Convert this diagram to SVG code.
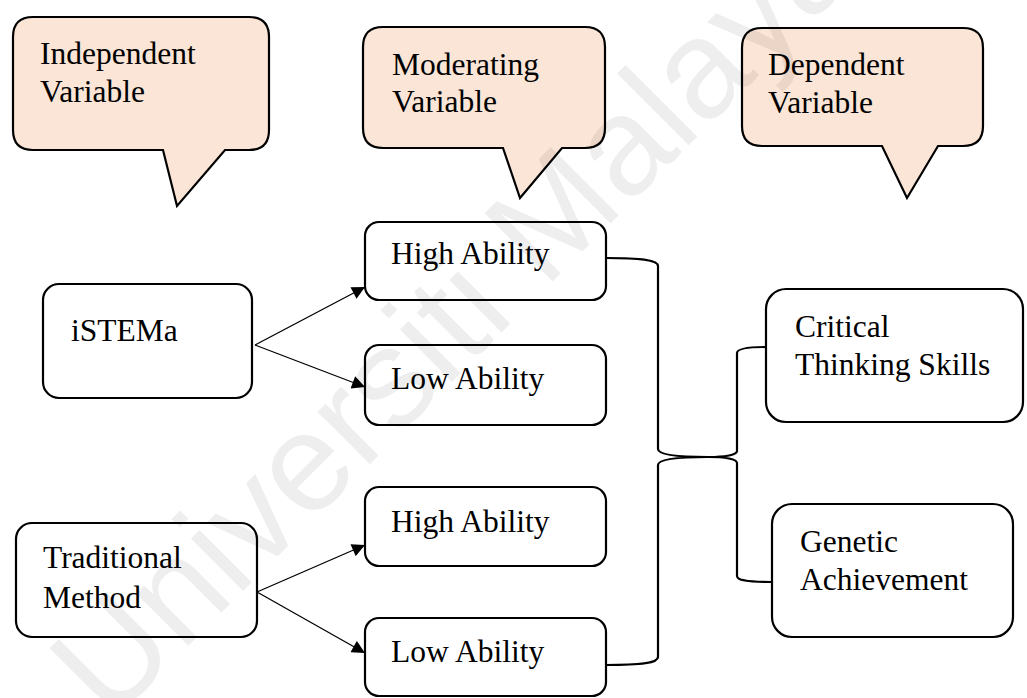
<svg xmlns="http://www.w3.org/2000/svg" width="1027" height="698" viewBox="0 0 1027 698">
  <style>
    .callout { fill: #FBE5D6; stroke: #000; stroke-width: 2.2; stroke-linejoin: miter; }
    .box { fill: #fff; stroke: #000; stroke-width: 2.2; }
    .label { font-family: "Liberation Serif", "Times New Roman", serif; font-size: 31.5px; fill: #000; }
    .arrow { fill: none; stroke: #000; stroke-width: 1.3; }
    .brace { fill: none; stroke: #000; stroke-width: 2.2; }
    .mark { font-family: "Liberation Sans", Arial, sans-serif; font-size: 140px; fill: #000; fill-opacity: 0.065; }
  </style>
  <defs>
    <marker id="head" viewBox="0 0 10 10" refX="10" refY="5" markerWidth="14" markerHeight="13" markerUnits="userSpaceOnUse" orient="auto">
      <path d="M0,0 L10,5 L0,10 z" fill="#000"/>
    </marker>
  </defs>

  <rect width="1027" height="698" fill="#fff"/>

  <!-- heading callouts -->
  <g id="independent-variable">
    <path class="callout" d="M33,17 H249 Q269,17 269,37 V130 Q269,150 249,150 H225 L177,206 L163,150 H33 Q13,150 13,130 V37 Q13,17 33,17 Z"/>
    <text class="label" x="40" y="64">Independent</text>
    <text class="label" x="40" y="102">Variable</text>
  </g>
  <g id="moderating-variable">
    <path class="callout" d="M383,27 H585 Q605,27 605,47 V128 Q605,148 585,148 H562 L520,198 L503,148 H383 Q363,148 363,128 V47 Q363,27 383,27 Z"/>
    <text class="label" x="392" y="75">Moderating</text>
    <text class="label" x="392" y="112">Variable</text>
  </g>
  <g id="dependent-variable">
    <path class="callout" d="M762,28 H963 Q983,28 983,48 V126 Q983,146 963,146 H938 L907,198 L882,146 H762 Q742,146 742,126 V48 Q742,28 762,28 Z"/>
    <text class="label" x="768" y="75">Dependent</text>
    <text class="label" x="768" y="113">Variable</text>
  </g>

  <!-- independent variable groups -->
  <g id="istema">
    <rect class="box" x="43" y="284" width="209" height="114" rx="16"/>
    <text class="label" x="71" y="341">iSTEMa</text>
  </g>
  <g id="traditional-method">
    <rect class="box" x="16" y="523" width="241" height="114" rx="16"/>
    <text class="label" x="43" y="568">Traditional</text>
    <text class="label" x="43" y="608">Method</text>
  </g>

  <!-- ability levels -->
  <g id="high-ability-1">
    <rect class="box" x="365" y="222" width="241" height="78" rx="14"/>
    <text class="label" x="391" y="264">High Ability</text>
  </g>
  <g id="low-ability-1">
    <rect class="box" x="365" y="345" width="241" height="80" rx="14"/>
    <text class="label" x="391" y="389">Low Ability</text>
  </g>
  <g id="high-ability-2">
    <rect class="box" x="365" y="487" width="241" height="79" rx="14"/>
    <text class="label" x="391" y="532">High Ability</text>
  </g>
  <g id="low-ability-2">
    <rect class="box" x="365" y="618" width="241" height="78" rx="14"/>
    <text class="label" x="391" y="662">Low Ability</text>
  </g>

  <!-- outcomes -->
  <g id="critical-thinking">
    <rect class="box" x="766" y="289" width="257" height="133" rx="20"/>
    <text class="label" x="795" y="337">Critical</text>
    <text class="label" x="795" y="375">Thinking Skills</text>
  </g>
  <g id="genetic-achievement">
    <rect class="box" x="772" y="504" width="241" height="133" rx="20"/>
    <text class="label" x="800" y="552">Genetic</text>
    <text class="label" x="800" y="590">Achievement</text>
  </g>

  <!-- connectors -->
  <g id="connectors">
    <line class="arrow" x1="255" y1="345" x2="365" y2="287" marker-end="url(#head)"/>
    <line class="arrow" x1="255" y1="345" x2="365" y2="387" marker-end="url(#head)"/>
    <line class="arrow" x1="257" y1="592" x2="365" y2="545" marker-end="url(#head)"/>
    <line class="arrow" x1="257" y1="592" x2="365" y2="653" marker-end="url(#head)"/>
    <!-- right brace gathering the four ability groups -->
    <path class="brace" d="M606,258 C642,258 658,260 658,266 V449 C658,455 680,457 708,457 C680,457 658,459 658,465 V657 C658,663 642,665 606,665"/>
    <!-- left brace spreading to the two outcomes -->
    <path class="brace" d="M766,347 C746,347 737,349 737,353 V451 C737,455 725,457 708,457 C725,457 737,459 737,463 V576 C737,580 746,582 772,582"/>
  </g>

  <!-- faint diagonal watermark over the page -->
  <text class="mark" x="110" y="724" transform="rotate(-45 110 724)">Universiti Malaya</text>
</svg>
